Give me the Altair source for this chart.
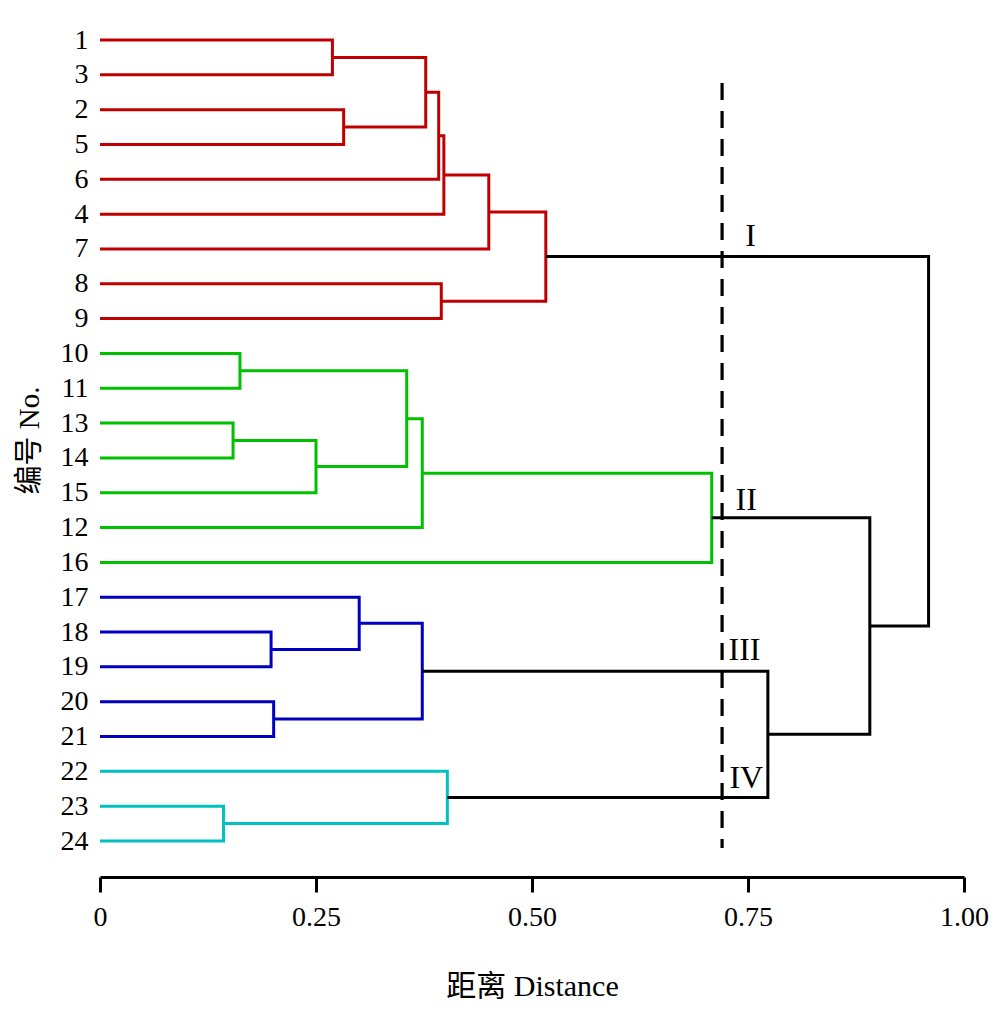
import altair as alt
import pandas as pd

# ---- data ----
leaf_order = ["1", "3", "2", "5", "6", "4", "7", "8", "9", "10", "11", "13",
              "14", "15", "12", "16", "17", "18", "19", "20", "21", "22", "23", "24"]

RED, GREEN, BLUE, CYAN, BLACK = "#C00000", "#00C000", "#0000C0", "#00C0C0", "#000000"

# merge name, left child, right child, distance, colour
merges = [
    ("A", "1", "3", 0.269, RED),
    ("B", "2", "5", 0.282, RED),
    ("C", "A", "B", 0.377, RED),
    ("D", "C", "6", 0.392, RED),
    ("E", "D", "4", 0.398, RED),
    ("F", "E", "7", 0.450, RED),
    ("G", "8", "9", 0.395, RED),
    ("H", "F", "G", 0.516, RED),
    ("J", "10", "11", 0.162, GREEN),
    ("K", "13", "14", 0.154, GREEN),
    ("L", "K", "15", 0.250, GREEN),
    ("M", "J", "L", 0.355, GREEN),
    ("N", "M", "12", 0.373, GREEN),
    ("O", "N", "16", 0.708, GREEN),
    ("P", "18", "19", 0.198, BLUE),
    ("Q", "17", "P", 0.300, BLUE),
    ("R", "20", "21", 0.201, BLUE),
    ("S", "Q", "R", 0.373, BLUE),
    ("T", "23", "24", 0.143, CYAN),
    ("U", "22", "T", 0.402, CYAN),
    ("V", "S", "U", 0.773, BLACK),
    ("W", "O", "V", 0.891, BLACK),
    ("X", "H", "W", 0.959, BLACK),
]

cut_distance = 0.72
cut_from, cut_to = 1.235, 23.2

group_labels = ["I", "II", "III", "IV"]
group_x = [0.753, 0.748, 0.746, 0.748]
group_y = [5.915, 13.49, 17.80, 21.48]

x_ticks = [0, 0.25, 0.5, 0.75, 1.0]

# ---- build dendrogram paths from the merge table ----
pos = {name: i for i, name in enumerate(leaf_order)}
height = {name: 0.0 for name in leaf_order}
rows = []
for name, a, b, h, col in merges:
    ya, yb = pos[a], pos[b]
    pts = [(height[a], ya), (h, ya), (h, yb), (height[b], yb)]
    for k, (px, py) in enumerate(pts):
        rows.append({"node": name, "k": k, "x": px, "y": py, "color": col})
    pos[name] = (ya + yb) / 2
    height[name] = h
links = pd.DataFrame(rows)

serif = "Liberation Serif, Times New Roman, Noto Sans CJK SC"

label_expr = "[" + ",".join("'%s'" % s for s in leaf_order) + "][datum.value]"

yscale = alt.Scale(domain=[-0.5169, 24.0337], reverse=True, nice=False, zero=False)
xscale = alt.Scale(domain=[0, 1], nice=False, zero=False)

xaxis = alt.Axis(values=x_ticks, grid=False,
                 labelExpr="datum.value == 0 ? '0' : format(datum.value, '.2f')",
                 labelFont=serif, labelFontSize=28, labelColor="black",
                 labelPadding=11, labelFlush=False, labelOverlap=False,
                 tickSize=15, tickWidth=3, tickColor="black",
                 domainWidth=3, domainColor="black",
                 title="距离 Distance", titleFont=serif, titleFontSize=30,
                 titleFontWeight="normal", titleColor="black",
                 titleBaseline="alphabetic", titleY=118)
yaxis = alt.Axis(values=list(range(len(leaf_order))), labelExpr=label_expr,
                 grid=False, ticks=False, domain=False, labelOverlap=False,
                 labelBound=False,
                 labelFont=serif, labelFontSize=28, labelColor="black",
                 labelPadding=12,
                 title="编号 No.", titleFont=serif, titleFontSize=29,
                 titleFontWeight="normal", titleColor="black",
                 titleX=-71, titleY=418, titleAngle=270,
                 titleAlign="center", titleBaseline="middle")

lines = alt.Chart(links).mark_line(strokeWidth=3, strokeJoin="miter", strokeCap="butt").encode(
    x=alt.X("x:Q", scale=xscale, axis=xaxis),
    y=alt.Y("y:Q", scale=yscale, axis=yaxis),
    detail="node:N",
    order="k:Q",
    color=alt.Color("color:N", scale=None),
)

cut = alt.Chart(pd.DataFrame({"x": [cut_distance], "y": [cut_from], "y2": [cut_to]})).mark_rule(
    color="black", strokeWidth=3.2, strokeDash=[17, 11]
).encode(x=alt.X("x:Q", scale=xscale, axis=xaxis),
         y=alt.Y("y:Q", scale=yscale, axis=yaxis), y2="y2:Q")

labels = alt.Chart(pd.DataFrame({"t": group_labels, "x": group_x, "y": group_y})).mark_text(
    font=serif, fontSize=32, baseline="alphabetic", align="center", color="black"
).encode(x=alt.X("x:Q", scale=xscale, axis=xaxis),
         y=alt.Y("y:Q", scale=yscale, axis=yaxis), text="t:N")

chart = alt.layer(lines, cut, labels).properties(
    width=864, height=855,
    autosize=alt.AutoSizeParams(type="none"),
    padding={"left": 92, "top": 14, "right": 36, "bottom": 140},
).configure_view(strokeWidth=0).configure_axis(labelOverlap=False)

chart.save("out.html", embed_options={"renderer": "svg", "actions": False})
